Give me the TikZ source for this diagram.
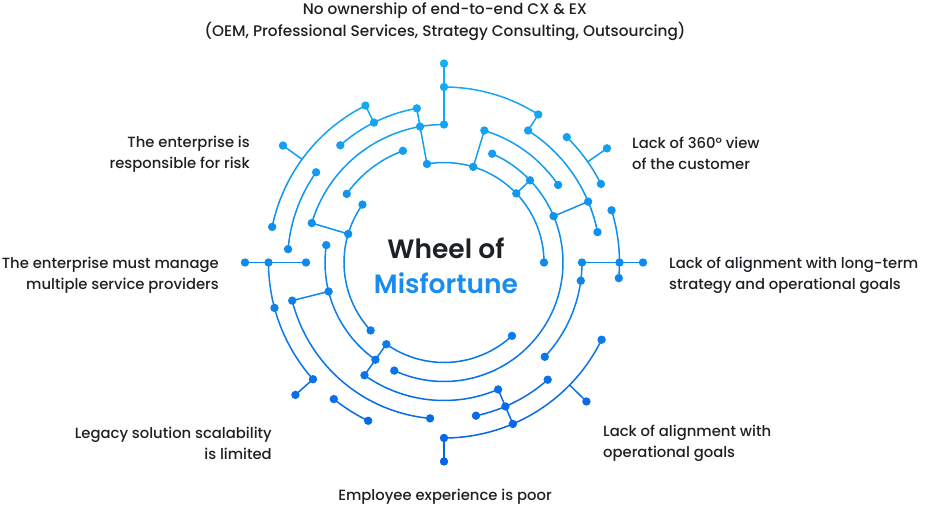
\documentclass[tikz,border=0pt]{standalone}
\usepackage{fontspec}
\setmainfont{Poppins}[UprightFont=* Medium,BoldFont=* SemiBold]
\definecolor{ctop}{RGB}{22,176,244}
\definecolor{cbot}{RGB}{6,98,230}
\definecolor{ctext}{RGB}{30,33,36}
\definecolor{cmis}{RGB}{26,140,238}
\pgfdeclarelayer{bg}
\pgfsetlayers{bg,main}
\newdimen\wya
\newdimen\wyb
\newcommand\wmix[1]{\pgfmathtruncatemacro\wp{max(0,min(100,round((#1+199)/3.98)))}\colorlet{wc}{ctop!\wp!cbot}}
\newcommand\wdotat[3]{\pgfmathsetmacro\wy{#3*sin(#2)}\wmix{\wy}\node[wdot,fill=wc] (#1) at (#2:#3) {};}
\newcommand\warc[3]{%
  \pgfmathtruncatemacro\wn{max(1,ceil(abs(#3-#2)/3))}%
  \pgfmathsetmacro\wdl{(#3-#2)/\wn}%
  \begin{pgfonlayer}{bg}%
  \foreach \wi in {1,...,\wn}{%
    \pgfmathsetmacro\ws{#2+(\wi-1)*\wdl}%
    \pgfmathsetmacro\we{\ws+\wdl}%
    \pgfmathsetmacro\wy{#1*sin(\ws+\wdl/2)}%
    \wmix{\wy}%
    \draw[wline,draw=wc] (\ws:#1) arc[start angle=\ws,end angle=\we,radius=#1];
  }%
  \end{pgfonlayer}}
\newcommand\wlink[2]{%
  \pgfextracty{\wya}{\pgfpointanchor{#1}{center}}%
  \pgfextracty{\wyb}{\pgfpointanchor{#2}{center}}%
  \pgfmathsetmacro\wy{(\wya+\wyb)/2}%
  \wmix{\wy}%
  \begin{pgfonlayer}{bg}\draw[wline,draw=wc] (#1.center) -- (#2.center);\end{pgfonlayer}}
\tikzset{
  wdot/.style={circle,inner sep=0pt,minimum size=8.4pt,draw=none},
  wline/.style={line width=1.5pt,line cap=round},
  lbl/.style={font=\fontsize{14.8}{21}\selectfont,text=ctext,inner sep=0pt},
  ttl/.style={font=\fontsize{26.5}{30}\selectfont\bfseries,inner sep=0pt}
}
\begin{document}
\begin{tikzpicture}[x=1pt,y=1pt]
\useasboundingbox (-444,-247.5) rectangle (482,262.5);
\def\ra{100}\def\rb{119}\def\rc{138}\def\rd{156.5}\def\re{175.5}\def\rf{199}
% ring 1
\wdotat{p1a}{99.8}{\ra}\wdotat{p1b}{73}{\ra}\wdotat{p1c}{43.7}{\ra}\wdotat{p1d}{0}{\ra}
\wdotat{p1e}{144.6}{\ra}\wdotat{p1f}{163.4}{\ra}\wdotat{p1g}{222.8}{\ra}
\wdotat{p1h}{234.8}{\ra}\wdotat{p1i}{312.8}{\ra}
% ring 2
\wdotat{p2a}{66.1}{\rb}\wdotat{p2b}{43.7}{\rb}\wdotat{p2c}{22.9}{\rb}\wdotat{p2d}{245.3}{\rb}
\wdotat{p2e}{171.6}{\rb}\wdotat{p2f}{194.1}{\rb}\wdotat{p2g}{234.8}{\rb}
\wdotat{p2h}{144.8}{\rb}\wdotat{p2i}{110.2}{\rb}
% ring 3
\wdotat{p3a}{73}{\rc}\wdotat{p3b}{34.2}{\rc}\wdotat{p3c}{163.4}{\rc}\wdotat{p3d}{100}{\rc}
\wdotat{p3e}{90}{\rc}\wdotat{p3f}{234.8}{\rc}\wdotat{p3g}{293.1}{\rc}\wdotat{p3h}{0}{\rc}
\wdotat{p3i}{352.4}{\rc}\wdotat{p3j}{316.9}{\rc}\wdotat{p3k}{180}{\rc}
% ring 4
\wdotat{p4a}{57.5}{\rd}\wdotat{p4b}{22.9}{\rd}\wdotat{p4c}{11.2}{\rd}
\wdotat{p4d}{131.5}{\rd}\wdotat{p4e}{116.6}{\rd}\wdotat{p4f}{100}{\rd}
\wdotat{p4g}{144.8}{\rd}\wdotat{p4h}{175.1}{\rd}\wdotat{p4i}{194.1}{\rd}\wdotat{p4j}{264.9}{\rd}
\wdotat{p4k}{281.8}{\rd}\wdotat{p4l}{293.1}{\rd}\wdotat{p4m}{311.5}{\rd}
% ring 5
\wdotat{p5a}{90}{\re}\wdotat{p5b}{57.5}{\re}\wdotat{p5c}{45.6}{\re}\wdotat{p5d}{26.6}{\re}
\wdotat{p5e}{17.3}{\re}\wdotat{p5f}{0}{\re}\wdotat{p5g}{-5.1}{\re}
\wdotat{p5h}{270}{\re}\wdotat{p5i}{293.1}{\re}\wdotat{p5j}{333.9}{\re}
\wdotat{p5k}{231.1}{\re}\wdotat{p5l}{244.4}{\re}
\wdotat{p5m}{180}{\re}\wdotat{p5n}{195}{\re}\wdotat{p5o}{221.7}{\re}
\wdotat{p5p}{116.6}{\re}\wdotat{p5q}{168.3}{\re}
\coordinate (s1) at (35:\re);
\coordinate (s2) at (315.7:\re);
\coordinate (s3) at (144:\re);
% outer ring tips
\wdotat{p6a}{90}{\rf}\wdotat{p6b}{180}{\rf}\wdotat{p6c}{0}{\rf}\wdotat{p6d}{270}{\rf}
\wdotat{p6e}{144}{\rf}\wdotat{p6f}{35}{\rf}\wdotat{p6g}{315.7}{\rf}\wdotat{p6h}{221.7}{\rf}
% arcs
\warc{\ra}{99.8}{0}\warc{\ra}{144.6}{222.8}\warc{\ra}{234.8}{312.8}
\warc{\rb}{66.1}{-114.7}\warc{\rb}{171.6}{234.8}\warc{\rb}{110.2}{144.8}
\warc{\rc}{73}{34.2}\warc{\rc}{90}{163.4}\warc{\rc}{234.8}{293.1}\warc{\rc}{0}{-43.1}
\warc{\rd}{57.5}{11.2}\warc{\rd}{100}{131.5}\warc{\rd}{144.8}{175.1}\warc{\rd}{194.1}{264.9}\warc{\rd}{281.8}{311.5}
\warc{\re}{90}{57.5}\warc{\re}{45.6}{26.6}\warc{\re}{17.3}{-5.1}\warc{\re}{270}{333.9}
\warc{\re}{231.1}{244.4}\warc{\re}{180}{221.7}\warc{\re}{116.6}{168.3}
% radial links
\wlink{p3e}{p5a}\wlink{p5a}{p6a}
\wlink{p1a}{p3d}\wlink{p3d}{p4f}
\wlink{p4e}{p5p}
\wlink{p1f}{p3c}
\wlink{p3k}{p5m}\wlink{p5m}{p6b}
\wlink{p2f}{p4i}
\wlink{p1h}{p2g}\wlink{p2g}{p3f}
\wlink{p5h}{p6d}
\wlink{p3g}{p4l}\wlink{p4l}{p5i}
\wlink{s2}{p6g}
\wlink{p5o}{p6h}
\wlink{p3h}{p5f}\wlink{p5f}{p6c}
\wlink{p2c}{p4b}
\wlink{s1}{p6f}
\wlink{p1c}{p2b}
\wlink{p4a}{p5b}
\wlink{p1b}{p3a}
\wlink{s3}{p6e}
% title
\node[ttl,text=ctext] (t1) at (2,14.5) {Wheel of};
\node[ttl,text=cmis] (t2) at (2,-20.5) {Misfortune};
% labels
\node[lbl,align=center,font=\fontsize{15.3}{22}\selectfont] (l1) at (1,241) {No ownership of end-to-end CX \& EX\\(OEM, Professional Services, Strategy Consulting, Outsourcing)};
\node[lbl,align=right,anchor=east] (l2) at (-194,108.5) {The enterprise is\\responsible for risk};
\node[lbl,align=left,anchor=west] (l3) at (188,109) {Lack of 360° view\\of the customer};
\node[lbl,align=right,anchor=east] (l4) at (-225,-12.5) {The enterprise must manage\\multiple service providers};
\node[lbl,align=left,anchor=west] (l5) at (225,-12.5) {Lack of alignment with long-term\\strategy and operational goals};
\node[lbl,align=right,anchor=east] (l6) at (-172,-181) {Legacy solution scalability\\is limited};
\node[lbl,align=left,anchor=west] (l7) at (159,-181) {Lack of alignment with\\operational goals};
\node[lbl] (l8) at (1,-234.5) {Employee experience is poor};
\end{tikzpicture}
\end{document}
